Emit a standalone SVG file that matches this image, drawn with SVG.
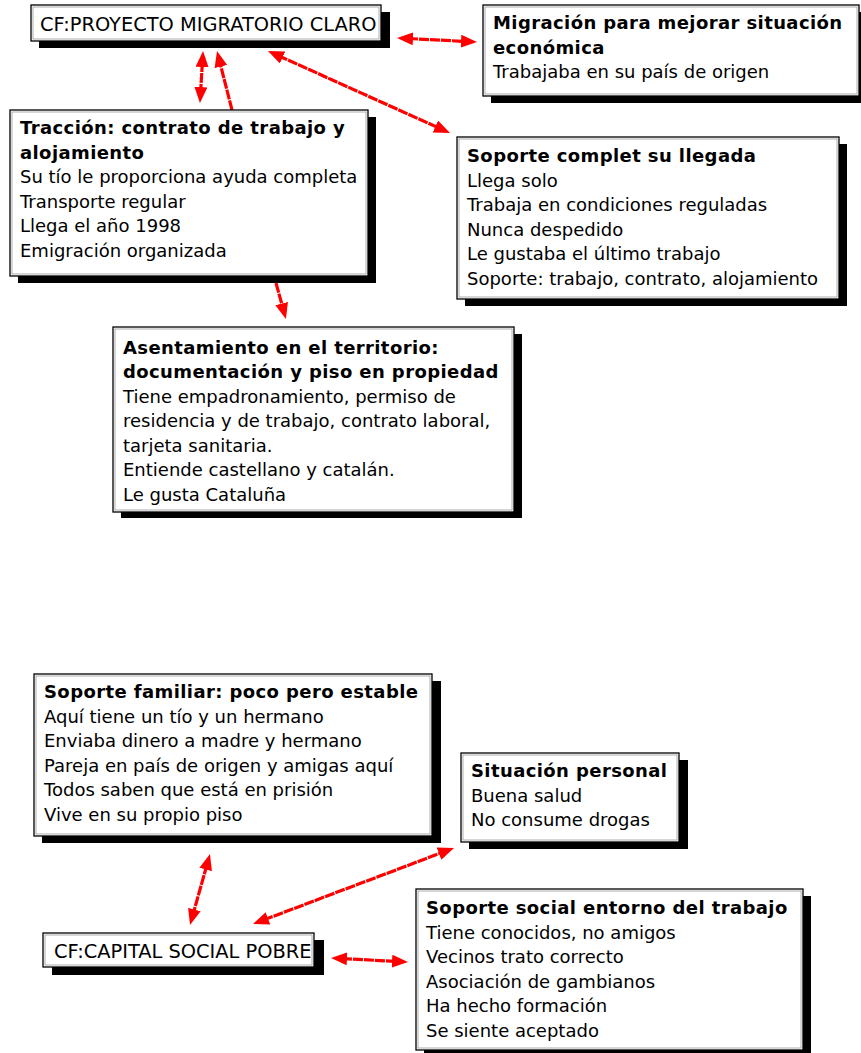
<svg xmlns="http://www.w3.org/2000/svg" width="861" height="1053" viewBox="0 0 861 1053">
  <style>
    .shadow { fill: #000; }
    .box { fill: #fff; stroke: #000; stroke-width: 1.3; }
    .inner { fill: none; stroke: #9a9a9a; stroke-width: 0.8; }
    text { font-family: "DejaVu Sans", "Liberation Sans", sans-serif; font-size: 18px; fill: #000; }
    .h { font-weight: bold; letter-spacing: 0.4px; }
    .cf { font-size: 19.4px; }
    .link { fill: none; stroke: #ff0000; stroke-width: 3.2; stroke-dasharray: 10 1; }
  </style>
  <defs>
    <marker id="head" markerUnits="userSpaceOnUse" markerWidth="16" markerHeight="13" refX="5" refY="6.5" orient="auto-start-reverse">
      <path d="M0,0 L16,6.5 L0,13 z" fill="#ff0000"/>
    </marker>
  </defs>

  <!-- connectors -->
  <g id="connectors">
    <line class="link" x1="408" y1="38.5" x2="466" y2="41.5" marker-start="url(#head)" marker-end="url(#head)"/>
    <line class="link" x1="202.4" y1="62" x2="200.6" y2="92" marker-start="url(#head)" marker-end="url(#head)"/>
    <line class="link" x1="232" y1="110" x2="219.7" y2="61.7" marker-end="url(#head)"/>
    <line class="link" x1="278" y1="55.5" x2="440" y2="128.5" marker-start="url(#head)" marker-end="url(#head)"/>
    <line class="link" x1="276" y1="283" x2="283" y2="308.4" marker-end="url(#head)"/>
    <line class="link" x1="207" y1="864.6" x2="193" y2="914.4" marker-start="url(#head)" marker-end="url(#head)"/>
    <line class="link" x1="263.3" y1="920.1" x2="443.7" y2="851.9" marker-start="url(#head)" marker-end="url(#head)"/>
    <line class="link" x1="342" y1="958.5" x2="397" y2="961.5" marker-start="url(#head)" marker-end="url(#head)"/>
  </g>

  <!-- CF: proyecto migratorio claro -->
  <g id="cf-proyecto">
    <rect class="shadow" x="39" y="12" width="351" height="36"/>
    <rect class="box" x="31" y="5" width="350" height="36"/>
    <rect class="inner" x="33" y="7" width="346" height="32"/>
    <text class="cf" x="40" y="31">CF:PROYECTO MIGRATORIO CLARO</text>
  </g>

  <g id="migracion">
    <rect class="shadow" x="491" y="12" width="376" height="91"/>
    <rect class="box" x="483" y="5" width="376" height="91"/>
    <rect class="inner" x="485" y="7" width="372" height="87"/>
    <text x="493" y="29" class="h">Migración para mejorar situación</text>
    <text x="493" y="53.5" class="h">económica</text>
    <text x="493" y="78">Trabajaba en su país de origen</text>
  </g>

  <g id="traccion">
    <rect class="shadow" x="18" y="117" width="358" height="166"/>
    <rect class="box" x="10" y="110" width="358" height="166"/>
    <rect class="inner" x="12" y="112" width="354" height="162"/>
    <text x="20" y="134" class="h">Tracción: contrato de trabajo y</text>
    <text x="20" y="158.5" class="h">alojamiento</text>
    <text x="20" y="183">Su tío le proporciona ayuda completa</text>
    <text x="20" y="207.5">Transporte regular</text>
    <text x="20" y="232">Llega el año 1998</text>
    <text x="20" y="256.5">Emigración organizada</text>
  </g>

  <g id="soporte-llegada">
    <rect class="shadow" x="465" y="144" width="382" height="162"/>
    <rect class="box" x="457" y="137" width="382" height="162"/>
    <rect class="inner" x="459" y="139" width="378" height="158"/>
    <text x="467" y="162" class="h">Soporte complet su llegada</text>
    <text x="467" y="186.5">Llega solo</text>
    <text x="467" y="211">Trabaja en condiciones reguladas</text>
    <text x="467" y="235.5">Nunca despedido</text>
    <text x="467" y="260">Le gustaba el último trabajo</text>
    <text x="467" y="284.5">Soporte: trabajo, contrato, alojamiento</text>
  </g>

  <g id="asentamiento">
    <rect class="shadow" x="121" y="334" width="401" height="184"/>
    <rect class="box" x="113" y="327" width="401" height="185"/>
    <rect class="inner" x="115" y="329" width="397" height="181"/>
    <text x="123" y="353.5" class="h">Asentamiento en el territorio:</text>
    <text x="123" y="378" class="h">documentación y piso en propiedad</text>
    <text x="123" y="402.5">Tiene empadronamiento, permiso de</text>
    <text x="123" y="427">residencia y de trabajo, contrato laboral,</text>
    <text x="123" y="451.5">tarjeta sanitaria.</text>
    <text x="123" y="476">Entiende castellano y catalán.</text>
    <text x="123" y="500.5">Le gusta Cataluña</text>
  </g>

  <g id="soporte-familiar">
    <rect class="shadow" x="42" y="681" width="399" height="162"/>
    <rect class="box" x="34" y="674" width="398" height="162"/>
    <rect class="inner" x="36" y="676" width="394" height="158"/>
    <text x="44" y="698" class="h">Soporte familiar: poco pero estable</text>
    <text x="44" y="722.5">Aquí tiene un tío y un hermano</text>
    <text x="44" y="747">Enviaba dinero a madre y hermano</text>
    <text x="44" y="771.5">Pareja en país de origen y amigas aquí</text>
    <text x="44" y="796">Todos saben que está en prisión</text>
    <text x="44" y="820.5">Vive en su propio piso</text>
  </g>

  <g id="situacion-personal">
    <rect class="shadow" x="469" y="760" width="219" height="89"/>
    <rect class="box" x="461" y="753" width="218" height="89"/>
    <rect class="inner" x="463" y="755" width="214" height="85"/>
    <text x="471" y="777" class="h">Situación personal</text>
    <text x="471" y="801.5">Buena salud</text>
    <text x="471" y="826">No consume drogas</text>
  </g>

  <g id="cf-capital">
    <rect class="shadow" x="52" y="940" width="272" height="35"/>
    <rect class="box" x="43" y="933" width="271" height="34"/>
    <rect class="inner" x="45" y="935" width="267" height="30"/>
    <text class="cf" x="54" y="957.5">CF:CAPITAL SOCIAL POBRE</text>
  </g>

  <g id="soporte-social">
    <rect class="shadow" x="424" y="896" width="387" height="161"/>
    <rect class="box" x="416" y="889" width="387" height="161"/>
    <rect class="inner" x="418" y="891" width="383" height="157"/>
    <text x="426" y="914" class="h">Soporte social entorno del trabajo</text>
    <text x="426" y="938.5">Tiene conocidos, no amigos</text>
    <text x="426" y="963">Vecinos trato correcto</text>
    <text x="426" y="987.5">Asociación de gambianos</text>
    <text x="426" y="1012">Ha hecho formación</text>
    <text x="426" y="1036.5">Se siente aceptado</text>
  </g>
</svg>
